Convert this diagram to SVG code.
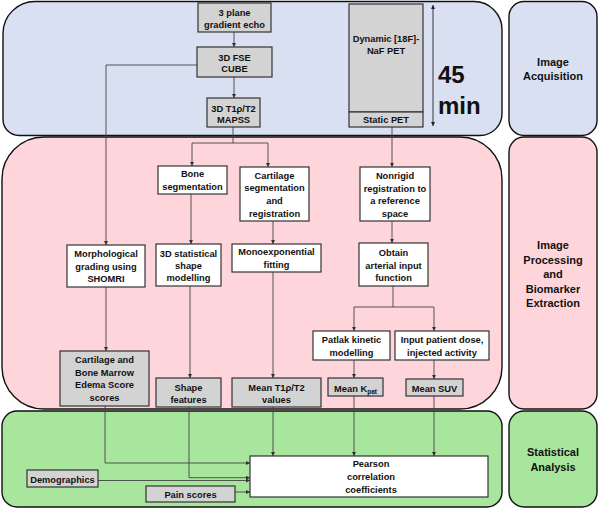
<svg xmlns="http://www.w3.org/2000/svg" width="600" height="509" viewBox="0 0 600 509">
<defs>
<marker id="ah" viewBox="0 0 6 6" refX="6" refY="3" markerWidth="4" markerHeight="4" orient="auto" markerUnits="userSpaceOnUse"><path d="M0,0 L6,3 L0,6 z" fill="#333"/></marker>
<marker id="dh" viewBox="0 0 6 6" refX="6" refY="3" markerWidth="4" markerHeight="4" orient="auto-start-reverse" markerUnits="userSpaceOnUse"><path d="M0,0 L6,3 L0,6 z" fill="#222"/></marker>
</defs>
<style>
.pb{fill:#d9e0f2;stroke:#111;stroke-width:1.4}
.pp{fill:#fed5da;stroke:#111;stroke-width:1.4}
.pg{fill:#a8e69e;stroke:#111;stroke-width:1.4}
.g{fill:#d3d3d3;stroke:#333;stroke-width:1.2}
.w{fill:#ffffff;stroke:#333;stroke-width:1.2}
text{font-family:"Liberation Sans",Arial,sans-serif;font-weight:bold;font-size:9.3px;fill:#111;text-anchor:middle}
.lab{font-size:11px}
.big{font-size:24px;text-anchor:start}
.c{fill:none;stroke:#444;stroke-width:0.9}
.ca{fill:none;stroke:#444;stroke-width:0.9;marker-end:url(#ah)}
</style>
<g id="panels">
<path id="panel-acq" class="pb" d="M35,1.5 H474 A28,28 0 0 1 502,29.5 V113 A22,22 0 0 1 480,135.5 H19 A16,16 0 0 1 3,119.5 V33.5 A32,32 0 0 1 35,1.5 Z"/>
<rect id="panel-proc" class="pp" x="2" y="137" width="500" height="272" rx="42" ry="42"/>
<rect id="panel-stat" class="pg" x="2" y="411" width="500" height="96" rx="15" ry="15"/>
</g>
<g id="side-acq"><rect class="pb" x="509" y="1.5" width="88" height="134" rx="15"/><text class="lab" x="553" y="66">Image</text><text class="lab" x="553" y="80">Acquisition</text></g>
<g id="side-proc"><rect class="pp" x="509" y="137" width="88" height="272" rx="15"/><text class="lab" x="553" y="249">Image</text><text class="lab" x="553" y="264">Processing</text><text class="lab" x="553" y="278">and</text><text class="lab" x="553" y="293">Biomarker</text><text class="lab" x="553" y="307">Extraction</text></g>
<g id="side-stat"><rect class="pg" x="509" y="411" width="88" height="96" rx="15"/><text class="lab" x="553" y="456">Statistical</text><text class="lab" x="553" y="471">Analysis</text></g>

<g id="connectors">
<path class="ca" d="M234,32 V47"/>
<path class="ca" d="M234,77 V98"/>
<path class="ca" d="M197,65 H106 V245"/>
<path class="c" d="M233,127 V143"/>
<path class="ca" d="M233,143 H192 V166"/>
<path class="ca" d="M233,143 H268 V167"/>
<path class="ca" d="M392,127 V167"/>
<path class="ca" d="M392,221 V243"/>
<path class="ca" d="M191,194 V244"/>
<path class="ca" d="M273,221 V244"/>
<path class="ca" d="M106,287 V351"/>
<path class="ca" d="M190,286 V378"/>
<path class="ca" d="M273,272 V378"/>
<path class="c" d="M393,286 V307"/>
<path class="ca" d="M393,307 H354 V331"/>
<path class="ca" d="M393,307 H434 V331"/>
<path class="ca" d="M354,360 V378"/>
<path class="ca" d="M434,360 V379"/>
<path class="ca" d="M354,396 V456"/>
<path class="ca" d="M434,396 V456"/>
<path class="ca" d="M273,407 V456"/>
<path class="ca" d="M105,406 V463 H250"/>
<path class="ca" d="M189,407 V477.7 H250"/>
<path class="ca" d="M98,480.5 H250"/>
<path class="ca" d="M235,492 H250"/>
<path id="duration" fill="none" stroke="#222" stroke-width="0.9" marker-start="url(#dh)" marker-end="url(#dh)" d="M433,5 V126"/>
</g>

<g id="n-gradient"><rect class="g" x="198" y="3" width="73" height="29"/><text x="234.5" y="16">3 plane</text><text x="234.5" y="27.5">gradient echo</text></g>
<g id="n-fse"><rect class="g" x="197" y="47" width="75" height="30"/><text x="234.5" y="60.5">3D FSE</text><text x="234.5" y="71.5">CUBE</text></g>
<g id="n-mapss"><rect class="g" x="207" y="98" width="53" height="29"/><text x="233.5" y="111.5">3D T1ρ/T2</text><text x="233.5" y="122.5">MAPSS</text></g>
<g id="n-pet"><rect class="g" x="349" y="4" width="74" height="108"/><text x="386" y="41.5">Dynamic [18F]-</text><text x="386" y="53.5">NaF PET</text></g>
<g id="n-static"><rect class="g" x="349" y="112" width="74" height="15"/><text x="386" y="122.5">Static PET</text></g>
<g id="t-45"><text class="big" x="438" y="83">45</text><text class="big" x="438" y="114">min</text></g>

<g id="n-bone"><rect class="w" x="158" y="166" width="69" height="28"/><text x="192.5" y="176.5">Bone</text><text x="192.5" y="189.5">segmentation</text></g>
<g id="n-cart"><rect class="w" x="240" y="167" width="69" height="54"/><text x="274.5" y="178.5">Cartilage</text><text x="274.5" y="191">segmentation</text><text x="274.5" y="204">and</text><text x="274.5" y="216.5">registration</text></g>
<g id="n-nonrigid"><rect class="w" x="360" y="167" width="70" height="54"/><text x="395" y="178.5">Nonrigid</text><text x="395" y="191.5">registration to</text><text x="395" y="204">a reference</text><text x="395" y="216.5">space</text></g>
<g id="n-aif"><rect class="w" x="359" y="243" width="69" height="43"/><text x="393.5" y="255.5">Obtain</text><text x="393.5" y="268.5">arterial input</text><text x="393.5" y="280.5">function</text></g>
<g id="n-morph"><rect class="w" x="67" y="245" width="78" height="42"/><text x="106" y="256.5">Morphological</text><text x="106" y="269.5">grading using</text><text x="106" y="281.5">SHOMRI</text></g>
<g id="n-ssm"><rect class="w" x="156" y="244" width="65" height="42"/><text x="188.5" y="256.5">3D statistical</text><text x="188.5" y="268.5">shape</text><text x="188.5" y="280.5">modelling</text></g>
<g id="n-mono"><rect class="w" x="232" y="244" width="89" height="28"/><text x="276.5" y="254.5">Monoexponential</text><text x="276.5" y="267.5">fitting</text></g>
<g id="n-patlak"><rect class="w" x="313" y="331" width="77" height="29"/><text x="351.5" y="342.5">Patlak kinetic</text><text x="351.5" y="355.5">modelling</text></g>
<g id="n-dose"><rect class="w" x="395" y="331" width="94" height="29"/><text x="442" y="342.5">Input patient dose,</text><text x="442" y="355.5">injected activity</text></g>

<g id="n-bme"><rect class="g" x="60" y="351" width="89" height="55"/><text x="104.5" y="362.5">Cartilage and</text><text x="104.5" y="375.5">Bone Marrow</text><text x="104.5" y="387.5">Edema Score</text><text x="104.5" y="400.5">scores</text></g>
<g id="n-shape"><rect class="g" x="156" y="378" width="65" height="29"/><text x="188.5" y="390.5">Shape</text><text x="188.5" y="402.5">features</text></g>
<g id="n-meant"><rect class="g" x="232" y="378" width="89" height="29"/><text x="276.5" y="390.5">Mean T1ρ/T2</text><text x="276.5" y="402.5">values</text></g>
<g id="n-kpat"><rect class="g" x="328" y="378" width="55" height="18"/><text x="355.5" y="391.5">Mean K<tspan font-size="6.5" dy="2">pat</tspan></text></g>
<g id="n-suv"><rect class="g" x="406" y="379" width="57" height="17"/><text x="434.5" y="391.5">Mean SUV</text></g>

<g id="n-pearson"><rect class="w" x="250" y="456" width="238" height="41"/><text x="371" y="466.5">Pearson</text><text x="371" y="480">correlation</text><text x="371" y="492.5">coefficients</text></g>
<g id="n-demo"><rect class="g" x="27" y="470" width="71" height="17"/><text x="62.5" y="482.5">Demographics</text></g>
<g id="n-pain"><rect class="g" x="146" y="486" width="89" height="16"/><text x="190.5" y="497.5">Pain scores</text></g>
</svg>
